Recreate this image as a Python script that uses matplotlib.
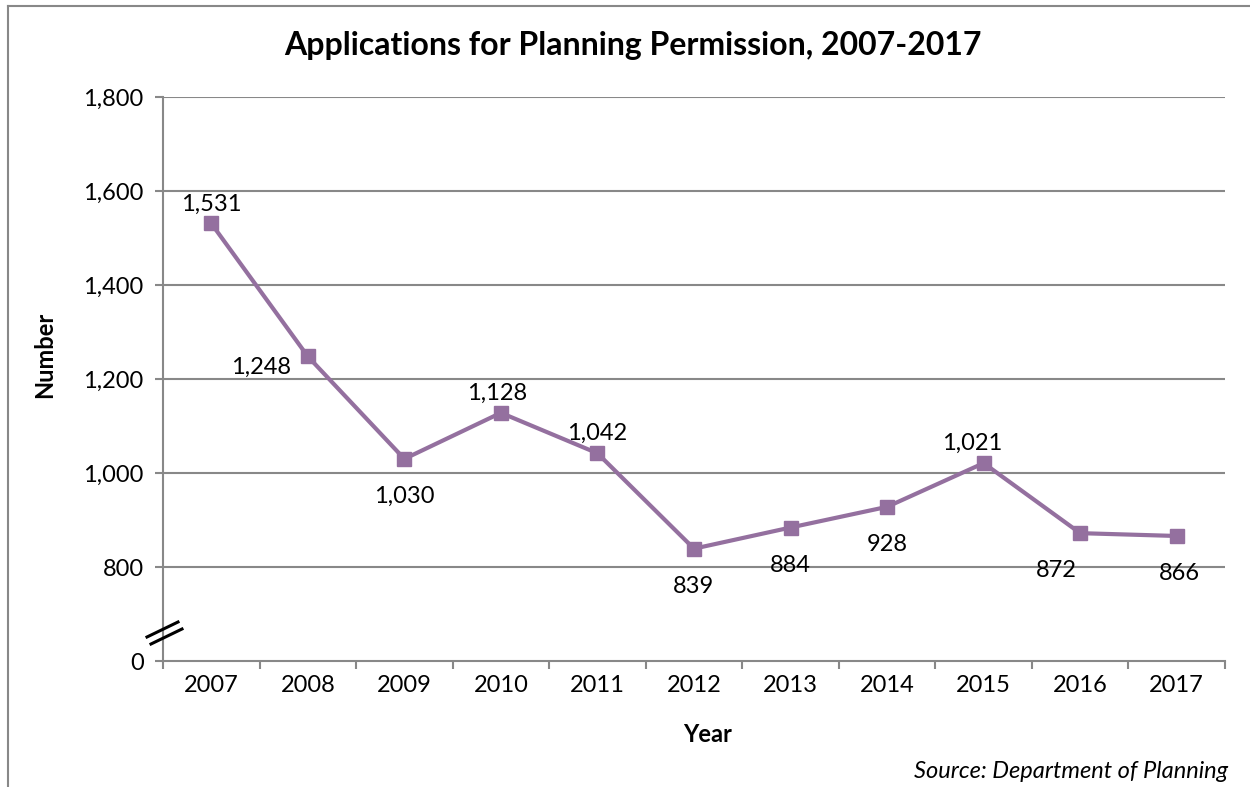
import matplotlib.pyplot as plt
from matplotlib.lines import Line2D

years = ["2007", "2008", "2009", "2010", "2011", "2012", "2013", "2014", "2015", "2016", "2017"]
applications = [1531, 1248, 1030, 1128, 1042, 839, 884, 928, 1021, 872, 866]
ytick_values = [600, 800, 1000, 1200, 1400, 1600, 1800]
ytick_labels = ["0", "800", "1,000", "1,200", "1,400", "1,600", "1,800"]

# where each data label sits relative to its point (points)
label_offsets = [(0, 14), (-34, -8), (0, -27), (-3, 14), (0, 14), (0, -27),
                 (0, -27), (0, -27), (-8, 14), (-17, -27), (2, -27)]

purple = "#94709F"
grey = "#888888"
plt.rcParams['font.family'] = ['Lato', 'DejaVu Sans']

fig = plt.figure(figsize=(12.5, 7.87), dpi=100)
ax = fig.add_axes([163 / 1250, 1 - 661 / 787, (1225 - 163) / 1250, (661 - 97) / 787])

x = list(range(len(years)))
ax.plot(x, applications, color=purple, lw=3, marker="s", ms=9.5, zorder=3)

for i, v in enumerate(applications):
    ax.annotate(f"{v:,}", (i, v), xytext=label_offsets[i], textcoords="offset points",
                ha="center", va="center", fontsize=17)

ax.set_xlim(-0.5, len(years) - 0.5)
ax.set_ylim(600, 1800)
ax.set_yticks(ytick_values)
ax.set_yticklabels(ytick_labels, fontsize=17)
ax.set_xticks(x)
ax.set_xticklabels(years, fontsize=17)
ax.set_xticks([i - 0.5 for i in range(len(years) + 1)], minor=True)
ax.tick_params(axis="x", which="major", length=0, pad=10)
ax.tick_params(axis="x", which="minor", length=6, width=1.5, color=grey)
ax.tick_params(axis="y", length=6, width=1.5, color=grey, pad=8)

for yv in ytick_values[1:]:
    ax.axhline(yv, color=grey, lw=1.5, zorder=1)

for s in ["top", "right"]:
    ax.spines[s].set_visible(False)
for s in ["left", "bottom"]:
    ax.spines[s].set_color(grey)
    ax.spines[s].set_linewidth(1.5)

# axis break marks
for (x0, y0, x1, y1) in [(147, 637, 178, 622), (151, 644, 182, 629)]:
    fig.add_artist(Line2D([x0 / 1250, x1 / 1250], [1 - y0 / 787, 1 - y1 / 787],
                          color="black", lw=2.2, transform=fig.transFigure))

# outer frame
fig.add_artist(Line2D([8 / 1250, 8 / 1250], [0, 1 - 6 / 787], color=grey, lw=1.5))
fig.add_artist(Line2D([8 / 1250, 1], [1 - 6 / 787, 1 - 6 / 787], color=grey, lw=1.5))

fig.text(633 / 1250, 1 - 45 / 787, "Applications for Planning Permission, 2007-2017",
         ha="center", va="center", fontsize=23, fontweight="bold")
fig.text(45 / 1250, 1 - 355 / 787, "Number", rotation=90, ha="center", va="center",
         fontsize=17, fontweight="bold")
fig.text(708 / 1250, 1 - 735 / 787, "Year", ha="center", va="center",
         fontsize=17, fontweight="bold")
fig.text(1228 / 1250, 1 - 772 / 787, "Source: Department of Planning", ha="right",
         va="center", fontsize=17, style="italic")

fig.savefig("out.png", dpi=100)
